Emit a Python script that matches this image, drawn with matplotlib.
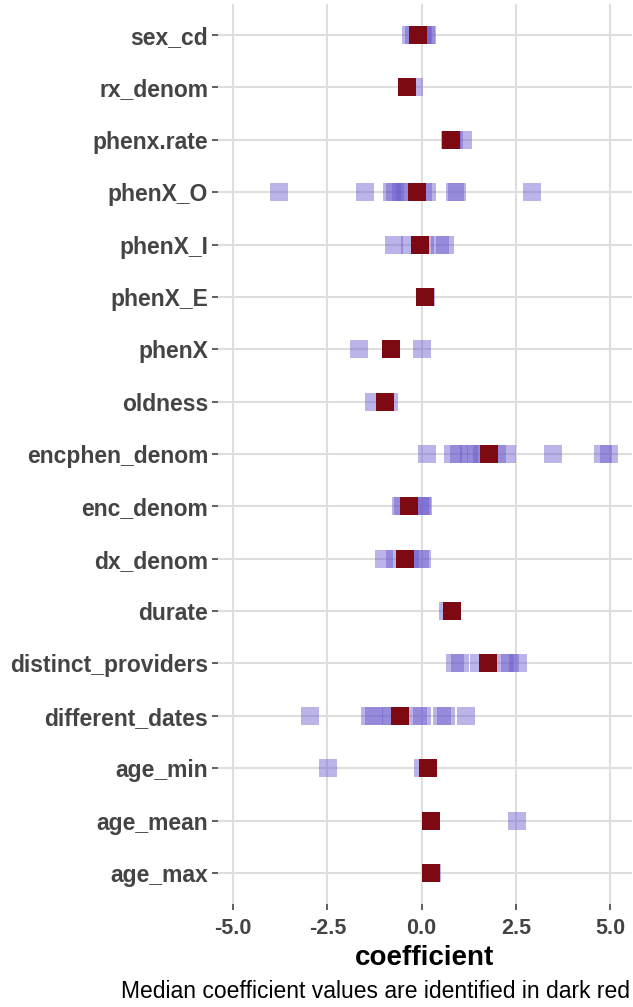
import matplotlib
matplotlib.use("Agg")
import matplotlib.pyplot as plt
import numpy as np

plt.rcParams['font.family'] = ['Liberation Sans', 'DejaVu Sans']

# variables, top to bottom
variables = ["sex_cd", "rx_denom", "phenx.rate", "phenX_O", "phenX_I", "phenX_E",
             "phenX", "oldness", "encphen_denom", "enc_denom", "dx_denom", "durate",
             "distinct_providers", "different_dates", "age_min", "age_mean", "age_max"]

# coefficient values from each model run (blue)
sex_cd = [-0.28, -0.2, -0.1, 0.0, 0.05, 0.12, 0.15]
rx_denom = [-0.4, -0.39, -0.38, -0.2]
phenx_rate = [0.75, 0.8, 0.85, 1.1]
phenX_O = [-3.78, -1.5, -0.78, -0.7, -0.55, -0.45, -0.13, 0.05, 0.13, 0.88, 0.95, 2.93]
phenX_I = [-0.73, -0.3, -0.05, 0.1, 0.48, 0.62]
phenX_E = [0.1, 0.12]
phenX = [-1.66, -0.81, 0.02]
oldness = [-1.26, -0.97, -0.86]
encphen_denom = [0.15, 0.84, 1.0, 1.25, 1.45, 1.6, 1.79, 2.0, 2.27, 3.49, 4.8, 4.98]
enc_denom = [-0.55, -0.5, -0.33, -0.05, 0.0, 0.05]
dx_denom = [-0.99, -0.71, -0.43, -0.3, -0.05, 0.02]
durate = [0.69, 0.8]
distinct_providers = [0.88, 1.02, 1.52, 1.76, 2.21, 2.34, 2.55]
different_dates = [-2.97, -1.38, -1.25, -0.9, -0.8, -0.56, -0.1, 0.0, 0.55, 0.65, 1.17]
age_min = [-2.49, 0.05, 0.18]
age_mean = [0.26, 2.52]
age_max = [0.26, 0.27]

coefs = [sex_cd, rx_denom, phenx_rate, phenX_O, phenX_I, phenX_E, phenX, oldness,
         encphen_denom, enc_denom, dx_denom, durate, distinct_providers,
         different_dates, age_min, age_mean, age_max]

# medians (dark red)
medians = [-0.1, -0.39, 0.79, -0.13, -0.05, 0.1, -0.81, -0.97, 1.79, -0.33,
           -0.43, 0.8, 1.76, -0.56, 0.18, 0.26, 0.26]

xticks = [-5.0, -2.5, 0.0, 2.5, 5.0]

fig = plt.figure(figsize=(6.33, 10.07), dpi=100)
ax = fig.add_axes([218/633, 1 - 904.4/1007, (632-218)/633, 900.8/1007])

for i, vals in enumerate(coefs):
    ax.scatter(vals, [i]*len(vals), marker='s', s=150, color='#6a5acd',
               alpha=0.45, linewidths=0, zorder=3)
ax.scatter(medians, range(len(medians)), marker='s', s=150, color='#7d0a12',
           linewidths=0, zorder=4)

ax.set_xlim(-5.4, 5.58)
ax.set_ylim(len(variables) - 0.4, -0.6)
ax.set_yticks(range(len(variables)))
ax.set_yticklabels(variables, fontsize=16.5, fontweight='bold', color='#444444')
ax.set_xticks(xticks)
ax.set_xticklabels(["%.1f" % v for v in xticks], fontsize=15.5, fontweight='bold',
                   color='#444444')
ax.tick_params(length=4, width=1.2, color='#444444')
ax.tick_params(axis='x', pad=6)
ax.tick_params(axis='y', pad=3)
ax.grid(True, color='#dedede', linewidth=1.5, zorder=0)
ax.set_axisbelow(True)
for s in ax.spines.values():
    s.set_visible(False)

ax.set_xlabel("coefficient", fontsize=20, fontweight='bold', color='black', labelpad=4)
fig.text(630/633, 1 - 991/1007, "Median coefficient values are identified in dark red",
         ha='right', va='center', fontsize=16.5, color='black')

fig.savefig("out.png", dpi=100)
